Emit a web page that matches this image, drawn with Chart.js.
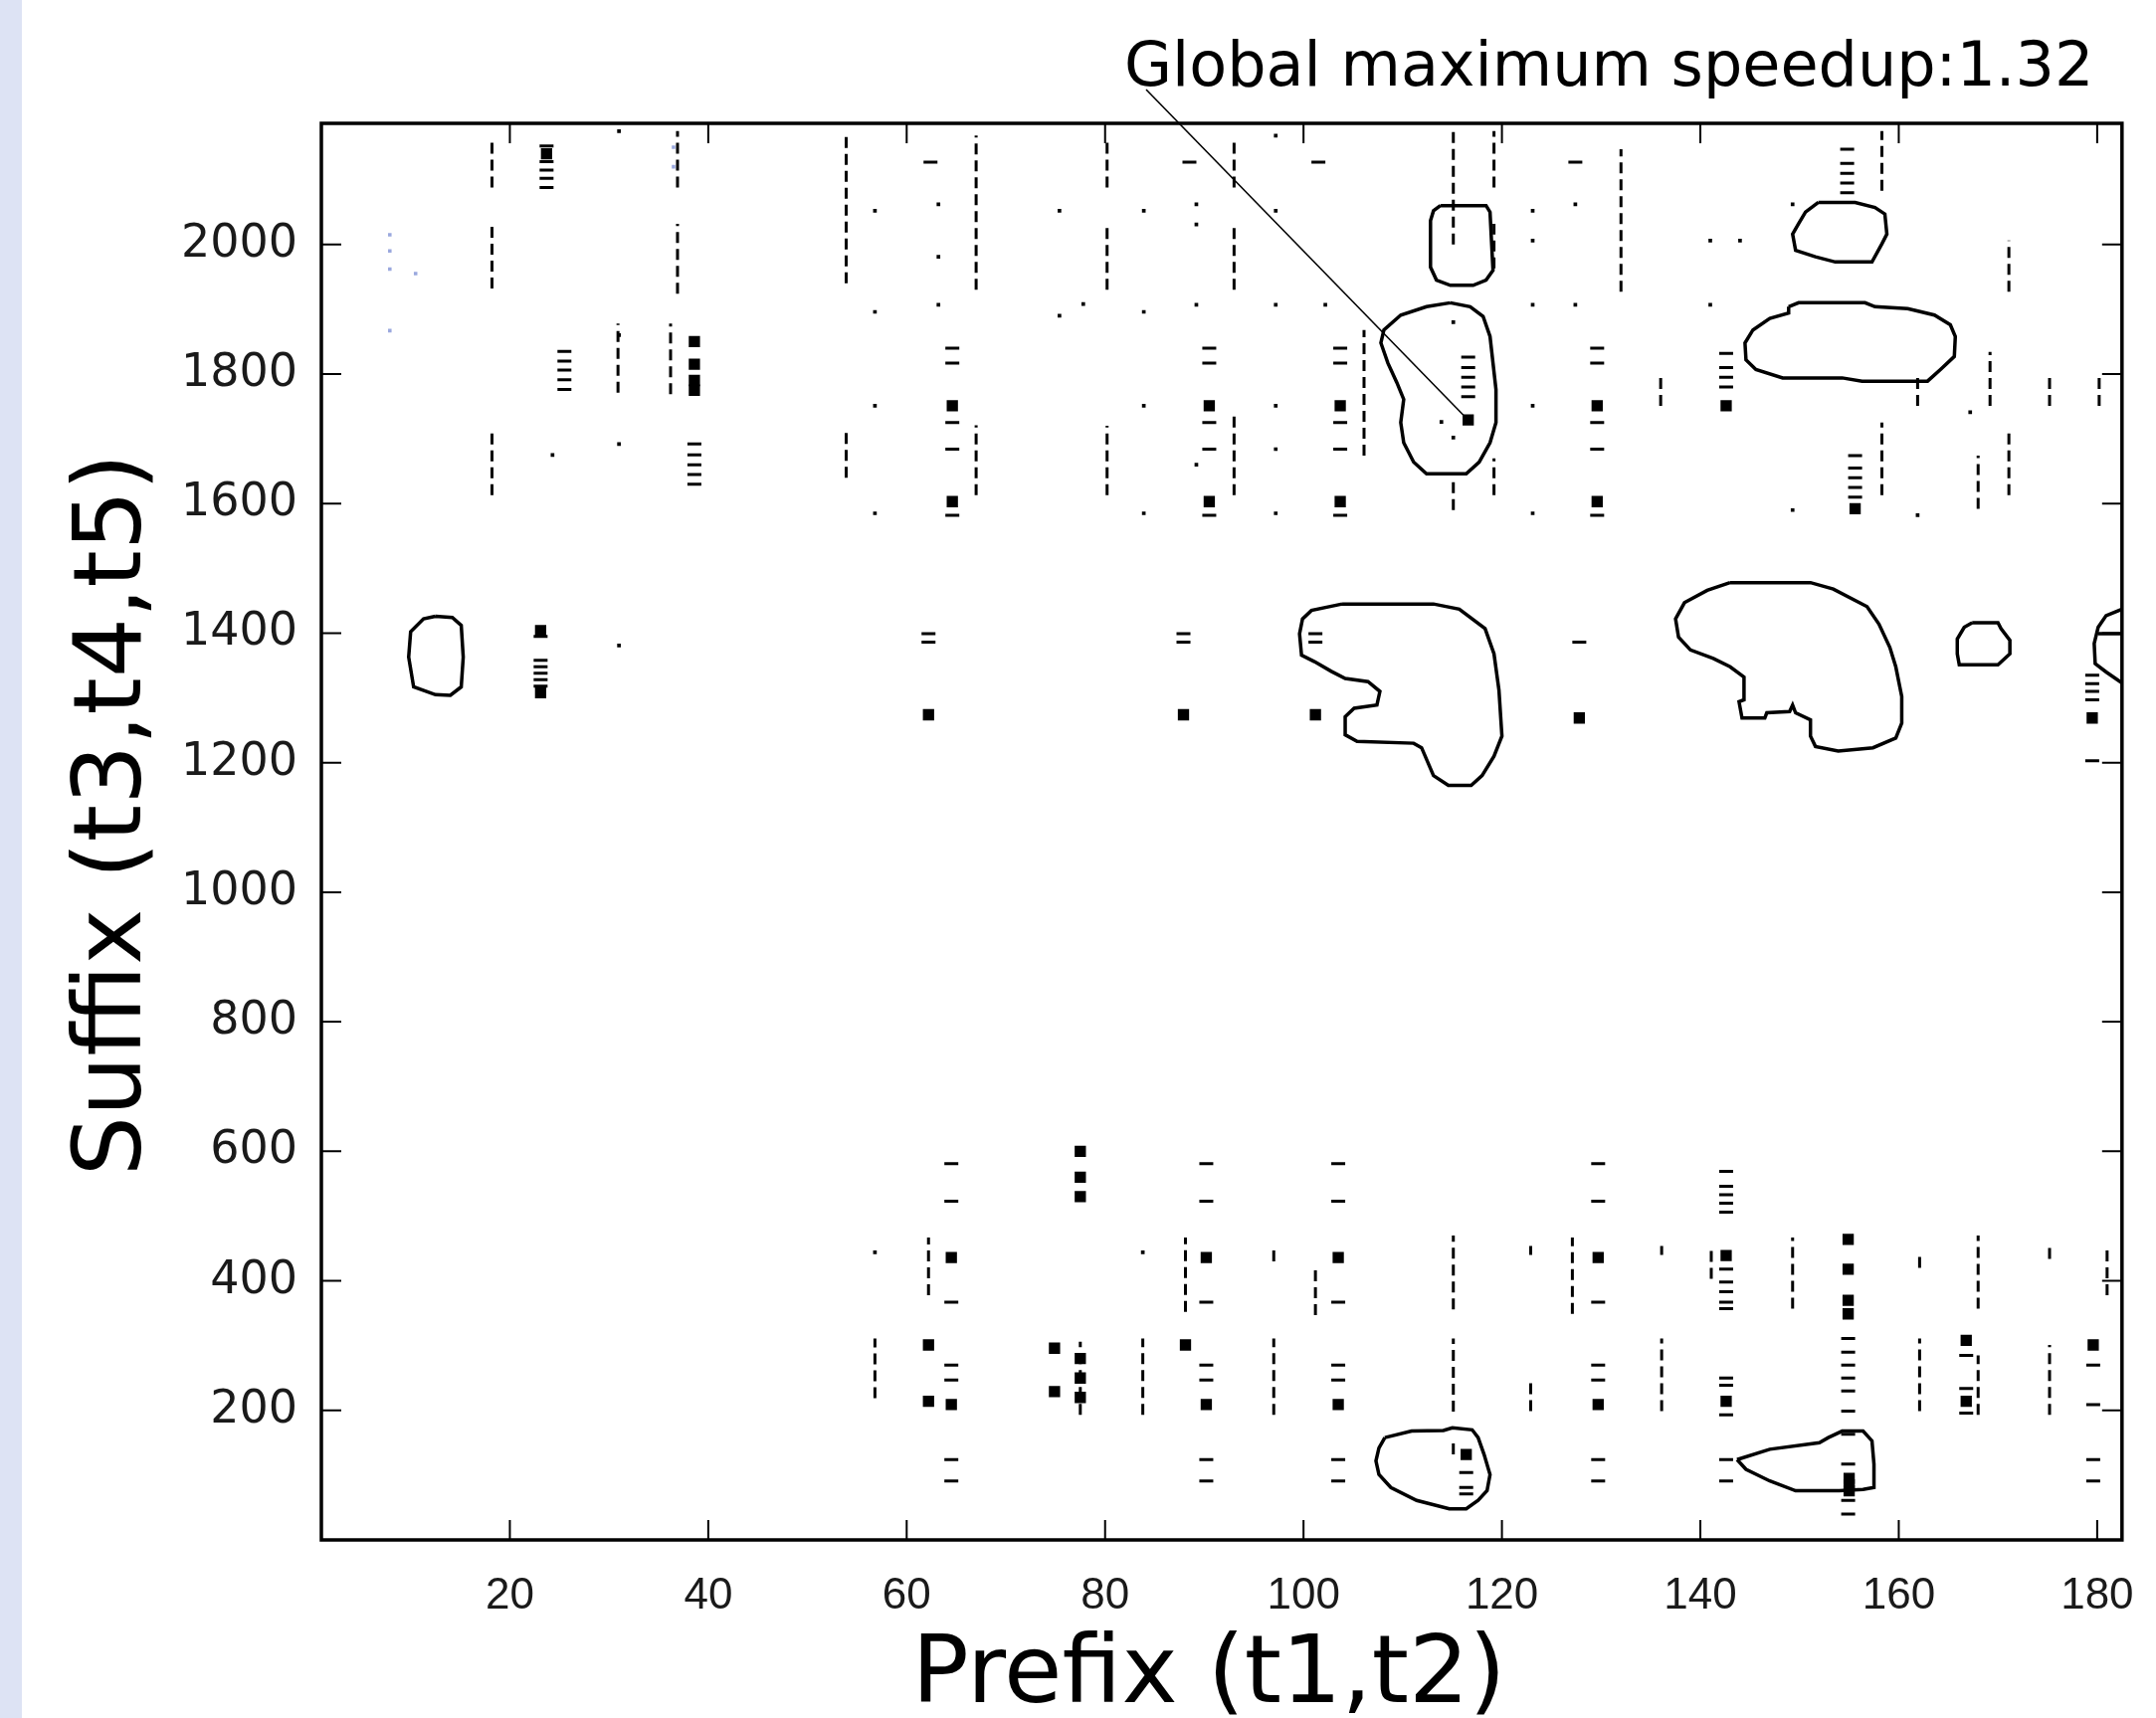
<!DOCTYPE html>
<html>
<head>
<meta charset="utf-8">
<title>Global maximum speedup</title>
<script src="https://cdn.jsdelivr.net/npm/chart.js@4.4.1/dist/chart.umd.min.js"></script>
<style>
  html, body { margin: 0; padding: 0; background: #fff; }
  canvas { display: block; }
</style>
</head>
<body>
<canvas id="grafico" width="2167" height="1727"></canvas>
<script>
// axes
const xTicks = [20, 40, 60, 80, 100, 120, 140, 160, 180];
const yTicks = [200, 400, 600, 800, 1000, 1200, 1400, 1600, 1800, 2000];
const xRange = [1, 182.5];
const yRange = [0, 2187];

const titleText = 'Global maximum speedup:1.32';
const xTitle = 'Prefix (t1,t2)';
const yTitle = 'Suffix (t3,t4,t5)';
const globalMax = [116.6, 1729];

// contour lines (prefix, suffix)
const contourLeft = [[12.5,1426],[14.2,1424],[15.1,1412],[15.3,1363],[15.1,1317],[14.0,1304],[12.5,1305],[10.3,1317],[9.8,1363],[10.0,1402],[11.3,1422],[12.5,1426]];
const contourTopBox = [[113.8,2060],[118.4,2060],[118.8,2050],[119.1,1960],[118.4,1945],[117.1,1937],[114.8,1937],[113.4,1945],[112.8,1965],[112.8,2037],[113.1,2052],[113.8,2060]];
const contourMax = [[114.8,1910],[116.8,1904],[118.1,1889],[118.8,1858],[119.1,1817],[119.4,1776],[119.4,1725],[118.8,1694],[117.7,1664],[116.4,1646],[112.4,1646],[111.1,1664],[110.1,1694],[109.8,1725],[110.1,1761],[109.4,1787],[108.5,1817],[107.8,1848],[108.1,1868],[109.8,1891],[112.4,1904],[114.8,1910]];
const contourTopRight = [[151.9,2065],[155.6,2065],[157.6,2057],[158.6,2047],[158.8,2016],[158.3,2001],[157.3,1973],[153.6,1973],[151.6,1981],[149.6,1991],[149.3,2016],[149.9,2032],[150.6,2050],[151.9,2065]];
const contourWide = [[148.9,1904],[149.9,1910],[156.6,1910],[157.6,1904],[160.9,1901],[163.6,1891],[165.2,1876],[165.7,1858],[165.6,1827],[164.2,1807],[162.9,1789],[156.3,1789],[154.3,1794],[148.3,1794],[145.6,1807],[144.6,1822],[144.5,1848],[145.3,1868],[147.0,1886],[148.9,1894],[148.9,1904]];
const contourMid = [[103.9,1445],[113.1,1445],[115.7,1437],[118.3,1407],[119.2,1368],[119.7,1312],[120.0,1241],[119.2,1210],[118.0,1180],[116.9,1165],[114.6,1165],[113.1,1180],[111.9,1223],[111.1,1230],[105.4,1233],[104.2,1243],[104.2,1271],[105.1,1284],[107.4,1289],[107.7,1310],[106.5,1325],[104.2,1330],[102.8,1341],[101.1,1356],[99.8,1366],[99.6,1399],[99.9,1422],[100.8,1435],[103.9,1445]];
const contourMidRight = [[143.0,1478],[151.1,1478],[153.4,1468],[156.8,1441],[158.0,1414],[159.1,1378],[159.7,1348],[160.3,1302],[160.3,1261],[159.7,1238],[157.4,1223],[153.9,1218],[151.6,1225],[151.1,1241],[151.1,1266],[149.6,1277],[149.3,1289],[149.0,1279],[146.7,1277],[146.5,1269],[144.2,1269],[143.9,1294],[144.4,1297],[144.4,1332],[143.0,1348],[141.3,1361],[139.0,1374],[137.8,1394],[137.5,1422],[138.4,1447],[140.7,1466],[143.0,1478]];
const contourSmall = [[167.4,1416],[170.0,1416],[170.3,1407],[171.2,1389],[171.2,1368],[170.0,1351],[166.1,1351],[165.9,1368],[165.9,1391],[166.6,1409],[167.4,1416]];
const contourEdge = [[182.5,1437],[180.9,1427],[180.1,1409],[179.7,1384],[179.8,1353],[180.9,1340],[182.5,1323]];
const contourEdgeBar = [[180.1,1399],[182.5,1399]];
const contourLow = [[108.2,158],[110.9,168],[114.1,169],[115.0,173],[117.0,170],[117.6,158],[118.2,132],[118.8,101],[118.5,76],[117.6,61],[116.4,48],[114.7,48],[111.4,61],[108.8,81],[107.6,101],[107.3,122],[107.6,142],[108.2,158]];
const contourDrop = [[143.7,124],[147.0,140],[152.0,150],[152.9,158],[154.3,168],[156.4,168],[157.3,153],[157.5,117],[157.5,81],[156.4,78],[154.0,76],[149.6,76],[147.0,91],[144.6,109],[143.7,124]];

// small contour fragments: vertical dashed runs [x, yFrom, yTo]
const vSegs = [
  [18.2,2088,2165],[18.2,1932,2032],[18.2,1613,1715],[30.9,1771,1878],
  [36.9,2088,2175],[36.9,1924,2032],[36.2,1769,1878],
  [53.9,1940,2170],[53.9,1640,1715],[67.0,1930,2168],[67.0,1613,1721],
  [80.2,2088,2165],[80.2,1930,2032],[80.2,1613,1720],
  [93.0,2088,2165],[93.0,1930,2032],[93.0,1613,1735],[106.1,1674,1868],
  [115.1,2000,2175],[115.1,1590,1640],[119.2,2088,2175],[119.2,1963,2032],[119.2,1613,1670],
  [132.0,1927,2147],[136.0,1751,1800],[158.3,2083,2175],[158.3,1613,1725],
  [161.9,1751,1800],[169.2,1751,1834],[171.1,1927,2006],[171.1,1613,1717],
  [175.2,1751,1800],[180.2,1751,1800],[168.0,1592,1674],
  [56.8,219,311],[62.2,378,467],[77.5,193,306],[83.8,193,311],[88.1,352,467],
  [97.0,430,454],[97.0,193,311],[101.2,347,423],[115.1,356,470],[115.1,198,311],[115.1,132,158],
  [122.9,440,454],[122.9,199,245],[127.1,349,467],[136.1,440,454],[136.1,199,311],
  [141.1,403,454],[149.3,357,467],[162.1,420,444],[162.1,199,311],
  [168.0,357,470],[168.0,193,285],[175.2,434,454],[175.2,193,301],[181.0,378,454]
];

// horizontal dashes [x, [y...]]
const topRow = [1840, 1817, 1725, 1684, 1582];
const lowRow = [581, 523, 367, 270, 247, 124, 91];
const hDashCols = [
  [23.7,[2152,2128,2115,2102,2088]],[25.5,[1835,1820,1806,1791,1776]],[38.6,[1692,1675,1660,1645,1630]],
  [62.4,[2127]],[88.5,[2127]],[101.5,[2127]],[127.4,[2127]],
  [64.6,topRow],[90.5,topRow],[103.7,topRow],[129.6,topRow],
  [116.6,[1826,1810,1795,1780,1765]],[142.6,[1832,1810,1795,1780]],
  [154.8,[2147,2125,2110,2095,2080]],[155.6,[1674,1655,1640,1625,1610]],
  [23.1,[1395,1358,1348,1338,1328,1318]],[62.2,[1399,1386]],[87.9,[1399,1386]],[101.2,[1399,1386]],[127.8,[1386]],
  [179.5,[1335,1322,1310,1297,1203]],
  [64.5,lowRow],[90.2,lowRow],[103.5,lowRow],[129.7,lowRow],
  [142.6,[569,546,533,520,506,418,398,383,367,357,250,239,193,124,91]],
  [116.4,[104,81,71]],[154.9,[311,290,270,250,230,199,163,117,61,40]],
  [166.8,[285,234,196]],[179.6,[270,209,124,91]]
];

// filled squares
const blocks = [[23.7,2140],[38.6,1850],[38.6,1815],[38.6,1790],[38.6,1775],[64.6,1751],[64.6,1603],[90.5,1751],[90.5,1603],
  [103.7,1751],[103.7,1603],[129.6,1751],[129.6,1603],[116.6,1729],[142.6,1751],[155.6,1592],[23.1,1404],[23.1,1308],
  [62.2,1274],[87.9,1274],[101.2,1274],[127.8,1269],[179.5,1269],[64.5,436],[64.5,209],[90.2,436],[90.2,209],
  [103.5,436],[103.5,209],[129.7,436],[129.7,209],[142.6,439],[142.6,214],[116.4,132],[154.9,464],[154.9,418],
  [154.9,370],[154.9,349],[155.0,95],[155.0,85],[155.0,76],[166.8,308],[166.8,214],[179.6,301],
  [77.5,600],[77.5,560],[77.5,530],[77.5,280],[77.5,250],[77.5,220],[74.9,296],[74.9,229],[62.2,301],[62.2,214],[88.1,301]];

// single dots
const dots = [[56.8,2052],[56.8,1896],[56.8,1751],[56.8,1585],[75.4,2052],[75.4,1890],[77.8,1908],[83.9,2052],[83.9,1896],
  [83.9,1751],[83.9,1585],[89.2,2062],[89.2,2031],[89.2,1907],[89.2,1660],[97.2,2168],[97.2,2052],[97.2,1907],
  [97.2,1751],[97.2,1684],[97.2,1585],[102.2,1907],[123.1,2052],[123.1,2006],[123.1,1907],[123.1,1751],[123.1,1585],
  [127.4,2062],[127.4,1907],[141.0,2006],[141.0,1907],[144.0,2006],[149.3,2062],[149.3,1590],[161.9,1582],[167.2,1741],
  [31.0,2175],[31.0,1692],[31.0,1381],[63.2,2062],[63.2,1981],[63.2,1907],[24.3,1675],[115.1,1880],[113.9,1726],
  [115.1,1702],[56.8,444],[83.8,444],[31.0,1860]];
const faintDots = [[7.9,2015],[7.9,1990],[7.9,1962],[7.9,1867],[10.5,1955],[36.5,2150],[36.5,2120]];

const xy = pts => pts.map(p => ({ x: p[0], y: p[1] }));

function contour(pts) {
  return { data: xy(pts), showLine: true, borderColor: '#000', borderWidth: 3.5, pointRadius: 0, tension: 0 };
}

const segData = [];
vSegs.forEach(s => {
  segData.push({ x: s[0], y: s[1] }, { x: s[0], y: s[2] }, { x: s[0], y: null });
});

const hDashData = [];
hDashCols.forEach(c => c[1].forEach(v => hDashData.push({ x: c[0], y: v })));

const datasets = [
  { data: xy(faintDots), pointStyle: 'rect', pointRadius: 2.5, backgroundColor: '#9aa8de', borderWidth: 0 },
  { data: segData, showLine: true, borderColor: '#000', borderWidth: 3, borderDash: [11, 6], pointRadius: 0, spanGaps: false },
  { data: hDashData, pointStyle: 'line', pointRadius: 7, borderColor: '#000', borderWidth: 3 },
  { data: xy(blocks), pointStyle: 'rect', pointRadius: 8, backgroundColor: '#000', borderWidth: 0 },
  { data: xy(dots), pointStyle: 'rect', pointRadius: 2.6, backgroundColor: '#000', borderWidth: 0 },
  contour(contourLeft), contour(contourTopBox), contour(contourMax), contour(contourTopRight),
  contour(contourWide), contour(contourMid), contour(contourMidRight), contour(contourSmall),
  contour(contourEdge), contour(contourEdgeBar), contour(contourLow), contour(contourDrop)
];

// frame, inward ticks, titles and the annotation
const framePlugin = {
  id: 'frame',
  beforeDraw(chart) {
    const ctx = chart.ctx;
    ctx.save();
    ctx.fillStyle = '#fff';
    ctx.fillRect(0, 0, chart.width, chart.height);
    ctx.fillStyle = '#dde3f4';
    ctx.fillRect(0, 0, 22, chart.height);
    ctx.restore();
  },
  afterDraw(chart) {
    const { ctx, chartArea: a } = chart;
    const x = chart.scales.x, y = chart.scales.y;
    ctx.save();
    ctx.strokeStyle = '#000';
    ctx.lineWidth = 2;
    ctx.beginPath();
    xTicks.forEach(v => {
      const px = x.getPixelForValue(v);
      ctx.moveTo(px, a.bottom); ctx.lineTo(px, a.bottom - 20);
      ctx.moveTo(px, a.top); ctx.lineTo(px, a.top + 20);
    });
    yTicks.forEach(v => {
      const py = y.getPixelForValue(v);
      ctx.moveTo(a.left, py); ctx.lineTo(a.left + 20, py);
      ctx.moveTo(a.right, py); ctx.lineTo(a.right - 20, py);
    });
    ctx.stroke();
    ctx.lineWidth = 3.5;
    ctx.strokeRect(a.left, a.top, a.right - a.left, a.bottom - a.top);

    // annotation
    ctx.fillStyle = '#000';
    ctx.font = '62px "DejaVu Sans"';
    ctx.textBaseline = 'alphabetic';
    ctx.textAlign = 'left';
    ctx.fillText(titleText, 1130, 86);
    ctx.lineWidth = 1.6;
    ctx.beginPath();
    ctx.moveTo(1152, 90);
    ctx.lineTo(x.getPixelForValue(globalMax[0]), y.getPixelForValue(globalMax[1]));
    ctx.stroke();

    // axis titles
    ctx.font = '95px "DejaVu Sans"';
    ctx.textAlign = 'center';
    ctx.fillText(xTitle, 1215, 1711);
    ctx.translate(141, 819);
    ctx.rotate(-Math.PI / 2);
    ctx.fillText(yTitle, 0, 0);
    ctx.restore();
  }
};

new Chart(document.getElementById('grafico'), {
  type: 'scatter',
  data: { datasets: datasets },
  options: {
    responsive: false,
    animation: false,
    devicePixelRatio: 1,
    events: [],
    layout: { padding: { top: 124, right: 30, left: 0, bottom: 0 } },
    plugins: { legend: { display: false }, tooltip: { enabled: false } },
    scales: {
      x: {
        type: 'linear',
        min: xRange[0],
        max: xRange[1],
        grid: { display: false },
        border: { display: false },
        afterBuildTicks: s => { s.ticks = xTicks.map(v => ({ value: v })); },
        afterFit: s => { s.height = 179; },
        ticks: { font: { family: 'Liberation Sans', size: 44 }, color: '#1a1a1a', padding: 22, maxRotation: 0, autoSkip: false,
                 callback: v => String(v) }
      },
      y: {
        type: 'linear',
        min: yRange[0],
        max: yRange[1],
        grid: { display: false },
        border: { display: false },
        afterBuildTicks: s => { s.ticks = yTicks.map(v => ({ value: v })); },
        afterFit: s => { s.width = 323; },
        ticks: { font: { family: 'DejaVu Sans', size: 46 }, color: '#1a1a1a', padding: 16, autoSkip: false,
                 callback: v => String(v) }
      }
    }
  },
  plugins: [framePlugin]
});
</script>
</body>
</html>
